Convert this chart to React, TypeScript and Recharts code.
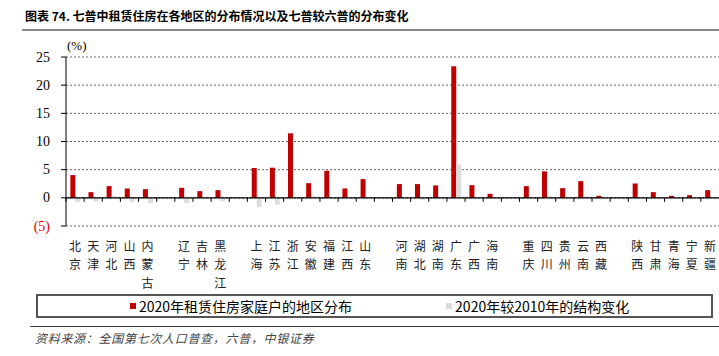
import React from 'react'
import { BarChart, Bar, XAxis, YAxis, CartesianGrid, ReferenceLine } from 'recharts'

// regions in groups, blank entries are the gaps between groups
const regions = ['北京', '天津', '河北', '山西', '内蒙古', '', '辽宁', '吉林', '黑龙江', '', '上海', '江苏', '浙江', '安徽', '福建', '江西', '山东', '', '河南', '湖北', '湖南', '广东', '广西', '海南', '', '重庆', '四川', '贵州', '云南', '西藏', '', '陕西', '甘肃', '青海', '宁夏', '新疆']
const share2020 = [4.04, 1.01, 2.08, 1.66, 1.54, null, 1.78, 1.19, 1.37, null, 5.29, 5.35, 11.46, 2.61, 4.81, 1.66, 3.33, null, 2.44, 2.44, 2.2, 23.34, 2.26, 0.71, null, 2.08, 4.69, 1.72, 2.97, 0.36, null, 2.55, 1.01, 0.36, 0.48, 1.37]
const change2010 = [-0.77, -0.65, 0.35, -0.77, -0.95, null, -0.95, -0.05, -0.6, null, -1.66, -1.19, 0.05, 0.3, 0.05, 0.05, 0.2, null, 0.05, -0.35, 0.05, 5.94, 0.05, 0.05, null, 0.05, 0.3, -0.15, 0.3, 0.05, null, 0.05, 0.05, 0.05, 0.05, 0.05]
const yTicks = [-5, 0, 5, 10, 15, 20, 25]
const seriesNames = ['2020年租赁住房家庭户的地区分布', '2020年较2010年的结构变化']

const data = regions.map((name, i) => ({ name, share: share2020[i], change: change2010[i] }))

const CHART_W = 719
const CHART_H = 300
const TOP = 57
const X_H = 74
const Y_W = 66
const PLOT_H = CHART_H - TOP - X_H
const Y_MIN = -5
const Y_MAX = 25
const RED = '#C00000'
const GREY = '#DCDCDC'
const CJK = '"Noto Sans CJK SC", sans-serif'
const SERIF = '"Liberation Serif", "Times New Roman", serif'

const XTick = (props: any) => {
  const { x, y, payload } = props
  const band = (CHART_W - Y_W) / regions.length
  const zeroY = y - (PLOT_H * (0 - Y_MIN)) / (Y_MAX - Y_MIN)
  const chars = String(payload.value).split('')
  return (
    <g>
      <line x1={x - band / 2} x2={x - band / 2} y1={zeroY} y2={zeroY + 4} stroke="#000" strokeWidth={1} />
      {chars.map((c, i) => (
        <text key={i} x={x} y={y + 19 + i * 18.5} textAnchor="middle" dominantBaseline="central"
          fontSize={12} fontFamily={CJK} fill="#222">{c}</text>
      ))}
    </g>
  )
}

const YTick = ({ x, y, payload }: any) => (
  <text x={x} y={y} textAnchor="end" dominantBaseline="central" fontSize={14} fontFamily={SERIF}
    fill={payload.value < 0 ? '#E00000' : '#000'}>
    {payload.value < 0 ? `(${-payload.value})` : payload.value}
  </text>
)

export default function App() {
  return (
    <div style={{ position: 'absolute', left: 0, top: 0, width: 719, height: 356, background: '#fff', overflow: 'hidden' }}>
      <div style={{ position: 'absolute', left: 25, top: 7, fontSize: 12, fontWeight: 'bold', fontFamily: CJK, color: '#000', whiteSpace: 'nowrap' }}>
        图表 74. 七普中租赁住房在各地区的分布情况以及七普较六普的分布变化
      </div>
      <div style={{ position: 'absolute', left: 22, right: 0, top: 29, height: 1.5, background: '#888' }} />
      <div style={{ position: 'absolute', left: 67, top: 38, fontSize: 13, fontFamily: SERIF, color: '#000' }}>(%)</div>

      <div style={{ position: 'absolute', left: 0, top: 0 }}>
        <BarChart width={CHART_W} height={CHART_H} data={data} margin={{ top: TOP, right: 0, bottom: 0, left: 0 }}
          barCategoryGap="24%" barGap={0}>
          <CartesianGrid vertical={false} stroke="#666" strokeDasharray="2 2" />
          <XAxis dataKey="name" interval={0} height={X_H} axisLine={false} tickLine={false} tickSize={0} tickMargin={0} tick={<XTick />} />
          <YAxis width={Y_W} domain={[Y_MIN, Y_MAX]} ticks={yTicks} tick={<YTick />} tickSize={5} tickMargin={11}
            axisLine={{ stroke: '#000' }} tickLine={{ stroke: '#000' }} />
          <Bar dataKey="share" fill={RED} isAnimationActive={false} />
          <Bar dataKey="change" fill={GREY} isAnimationActive={false} />
          <ReferenceLine y={0} stroke="#000" strokeWidth={1.2} />
        </BarChart>
      </div>

      <div style={{ position: 'absolute', left: 36, top: 294, width: 677, height: 24, border: '2px solid #555', boxSizing: 'border-box',
        display: 'flex', alignItems: 'center', paddingLeft: 92, fontFamily: CJK, fontSize: 14, color: '#000' }}>
        <span style={{ display: 'inline-block', width: 6, height: 6, background: RED, marginRight: 3 }} />
        <span style={{ marginRight: 94 }}>{seriesNames[0]}</span>
        <span style={{ display: 'inline-block', width: 6, height: 6, background: GREY, marginRight: 3 }} />
        <span>{seriesNames[1]}</span>
      </div>

      <div style={{ position: 'absolute', left: 30, right: 0, top: 326, height: 1, background: '#333' }} />
      <div style={{ position: 'absolute', left: 35, top: 329, fontSize: 12, fontStyle: 'italic', fontFamily: CJK, color: '#444', letterSpacing: 0.7, whiteSpace: 'nowrap' }}>
        资料来源：全国第七次人口普查，六普，中银证券
      </div>
    </div>
  )
}
